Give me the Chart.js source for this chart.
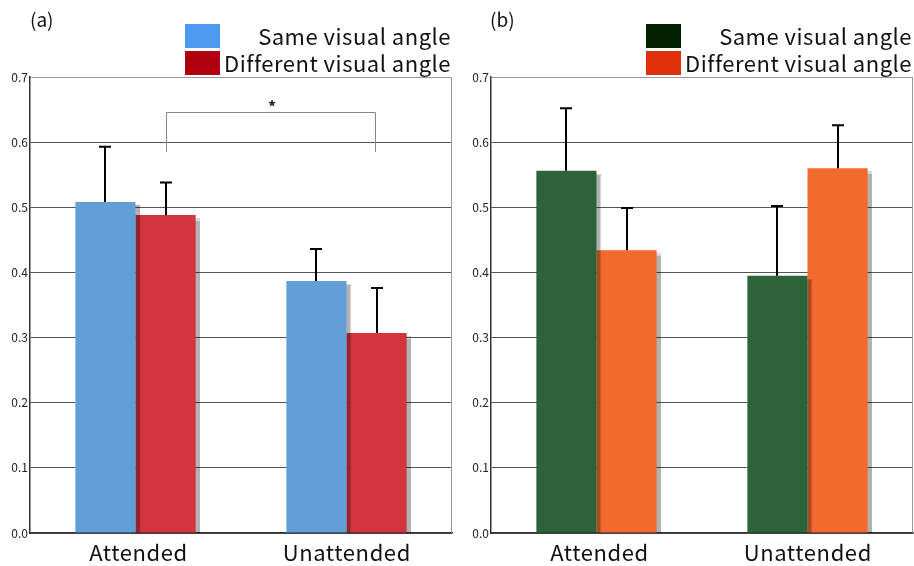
<!DOCTYPE html>
<html>
<head>
<meta charset="utf-8">
<script src="https://cdn.jsdelivr.net/npm/chart.js@4"></script>
<style>
  body { margin: 0; background: #fff; font-family: "Noto Sans CJK JP", "Noto Sans", sans-serif; }
  #wrap { position: relative; width: 914px; height: 566px; overflow: hidden; }
  canvas { position: absolute; top: 0; }
  .tag { position: absolute; font-size: 19px; color: #111; top: 5px; }
  .sw { position: absolute; width: 35px; height: 24px; }
  .lt { position: absolute; font-size: 22px; letter-spacing: 0.5px; color: #111; text-align: right; width: 270px; line-height: 24px; }
</style>
</head>
<body>
<div id="wrap">
  <canvas id="chartA" width="460" height="566" style="left:0"></canvas>
  <canvas id="chartB" width="453" height="566" style="left:461px"></canvas>
  <div class="tag" style="left:30px">(a)</div>
  <div class="tag" style="left:490px">(b)</div>
  <div class="sw" style="left:185px;top:24px;background:#4f9bf1"></div>
  <div class="sw" style="left:185px;top:51px;background:#b0000f"></div>
  <div class="lt" style="left:181px;top:23px">Same visual angle</div>
  <div class="lt" style="left:181px;top:50px">Different visual angle</div>
  <div class="sw" style="left:646px;top:24px;background:#002000"></div>
  <div class="sw" style="left:646px;top:51px;background:#e0300a"></div>
  <div class="lt" style="left:642px;top:23px">Same visual angle</div>
  <div class="lt" style="left:642px;top:50px">Different visual angle</div>
</div>
<script>
const categories = ['Attended', 'Unattended'];
const seriesNames = ['Same visual angle', 'Different visual angle'];

// panel (a)
const sameA = [0.508, 0.387];
const diffA = [0.488, 0.307];
const sameErrA = [0.085, 0.049];
const diffErrA = [0.050, 0.069];
// significance bracket (a): between diff bars, values top / leg bottom
const bracketA = [0.646, 0.585];

// panel (b)
const sameB = [0.556, 0.395];
const diffB = [0.434, 0.560];
const sameErrB = [0.096, 0.107];
const diffErrB = [0.065, 0.066];

const yTicks = [0, 0.1, 0.2, 0.3, 0.4, 0.5, 0.6, 0.7];
const FONT = '"Noto Sans CJK JP", "Noto Sans", sans-serif';

const shadowPlugin = {
    id: 'barShadow',
    beforeDatasetDraw(chart) {
        const ctx = chart.ctx;
        ctx.save();
        ctx.shadowColor = 'rgba(0,0,0,0.3)';
        ctx.shadowOffsetX = 4;
        ctx.shadowOffsetY = 3;
        ctx.shadowBlur = 1;
    },
    afterDatasetDraw(chart) { chart.ctx.restore(); }
};

const extrasPlugin = {
    id: 'extras',
    afterDatasetsDraw(chart, args, opts) {
        const ctx = chart.ctx, y = chart.scales.y, x = chart.scales.x, area = chart.chartArea;
        ctx.save();
        // right frame line
        ctx.strokeStyle = '#999';
        ctx.lineWidth = 1;
        ctx.beginPath();
        ctx.moveTo(area.right - 0.5, area.top);
        ctx.lineTo(area.right - 0.5, area.bottom);
        ctx.stroke();
        // error bars (upper only)
        ctx.strokeStyle = '#000';
        ctx.lineWidth = 2;
        chart.data.datasets.forEach((ds, di) => {
            chart.getDatasetMeta(di).data.forEach((bar, i) => {
                const top = y.getPixelForValue(ds.data[i] + opts.errs[di][i]);
                const bx = Math.round(bar.x);
                ctx.beginPath();
                ctx.moveTo(bx, bar.y);
                ctx.lineTo(bx, top);
                ctx.moveTo(bx - 6, top);
                ctx.lineTo(bx + 6, top);
                ctx.stroke();
            });
        });
        // significance bracket
        if (opts.bracket) {
            const bars = chart.getDatasetMeta(1).data;
            const x1 = Math.round(bars[0].x) + 0.5, x2 = Math.round(bars[1].x) - 1.5;
            const yt = Math.round(y.getPixelForValue(opts.bracket[0])) + 0.5;
            const yb = y.getPixelForValue(opts.bracket[1]);
            ctx.strokeStyle = '#888';
            ctx.lineWidth = 1;
            ctx.beginPath();
            ctx.moveTo(x1, yb);
            ctx.lineTo(x1, yt);
            ctx.lineTo(x2, yt);
            ctx.lineTo(x2, yb);
            ctx.stroke();
            ctx.fillStyle = '#222';
            ctx.font = 'bold 16px ' + FONT;
            ctx.textAlign = 'center';
            ctx.fillText('*', (x1 + x2) / 2 + 1, yt);
        }
        // category labels
        ctx.fillStyle = '#111';
        ctx.font = '22px ' + FONT;
        ctx.letterSpacing = '0.6px';
        ctx.textAlign = 'center';
        ctx.textBaseline = 'middle';
        chart.data.labels.forEach((lab, i) => {
            ctx.fillText(lab, x.getPixelForTick(i) + (i === 0 ? 3 : 0.3), area.bottom + 20);
        });
        ctx.restore();
    }
};

function makeChart(id, same, diff, errs, colors, bracket, padRight) {
    return new Chart(document.getElementById(id), {
        type: 'bar',
        data: {
            labels: categories,
            datasets: [
                { label: seriesNames[0], data: same, backgroundColor: colors[0] },
                { label: seriesNames[1], data: diff, backgroundColor: colors[1] }
            ]
        },
        options: {
            responsive: false,
            animation: false,
            layout: { padding: { top: 77, right: padRight, left: 0, bottom: 0 } },
            datasets: { bar: { barPercentage: 1, categoryPercentage: 0.57 } },
            scales: {
                x: {
                    grid: { display: false },
                    border: { color: '#333', width: 1.5 },
                    ticks: { display: false },
                    afterFit(s) { s.height = 33; }
                },
                y: {
                    min: 0, max: 0.7,
                    afterBuildTicks(s) { s.ticks = yTicks.map(v => ({ value: v })); },
                    grid: { color: ctx => ctx.tick && ctx.tick.value === 0.7 ? '#999' : '#555', drawTicks: false },
                    border: { color: '#333', width: 1.5 },
                    ticks: {
                        color: '#222', padding: 2,
                        font: { size: 12, family: FONT },
                        callback: v => v.toFixed(1)
                    },
                    afterFit(s) { s.width = 30; }
                }
            },
            plugins: {
                legend: { display: false },
                tooltip: { enabled: false },
                extras: { errs: errs, bracket: bracket }
            }
        },
        plugins: [shadowPlugin, extrasPlugin]
    });
}

makeChart('chartA', sameA, diffA, [sameErrA, diffErrA], ['#629fd6', '#d2353f'], bracketA, 8);
makeChart('chartB', sameB, diffB, [sameErrB, diffErrB], ['#2c6339', '#f26a2e'], null, 1);
</script>
</body>
</html>
